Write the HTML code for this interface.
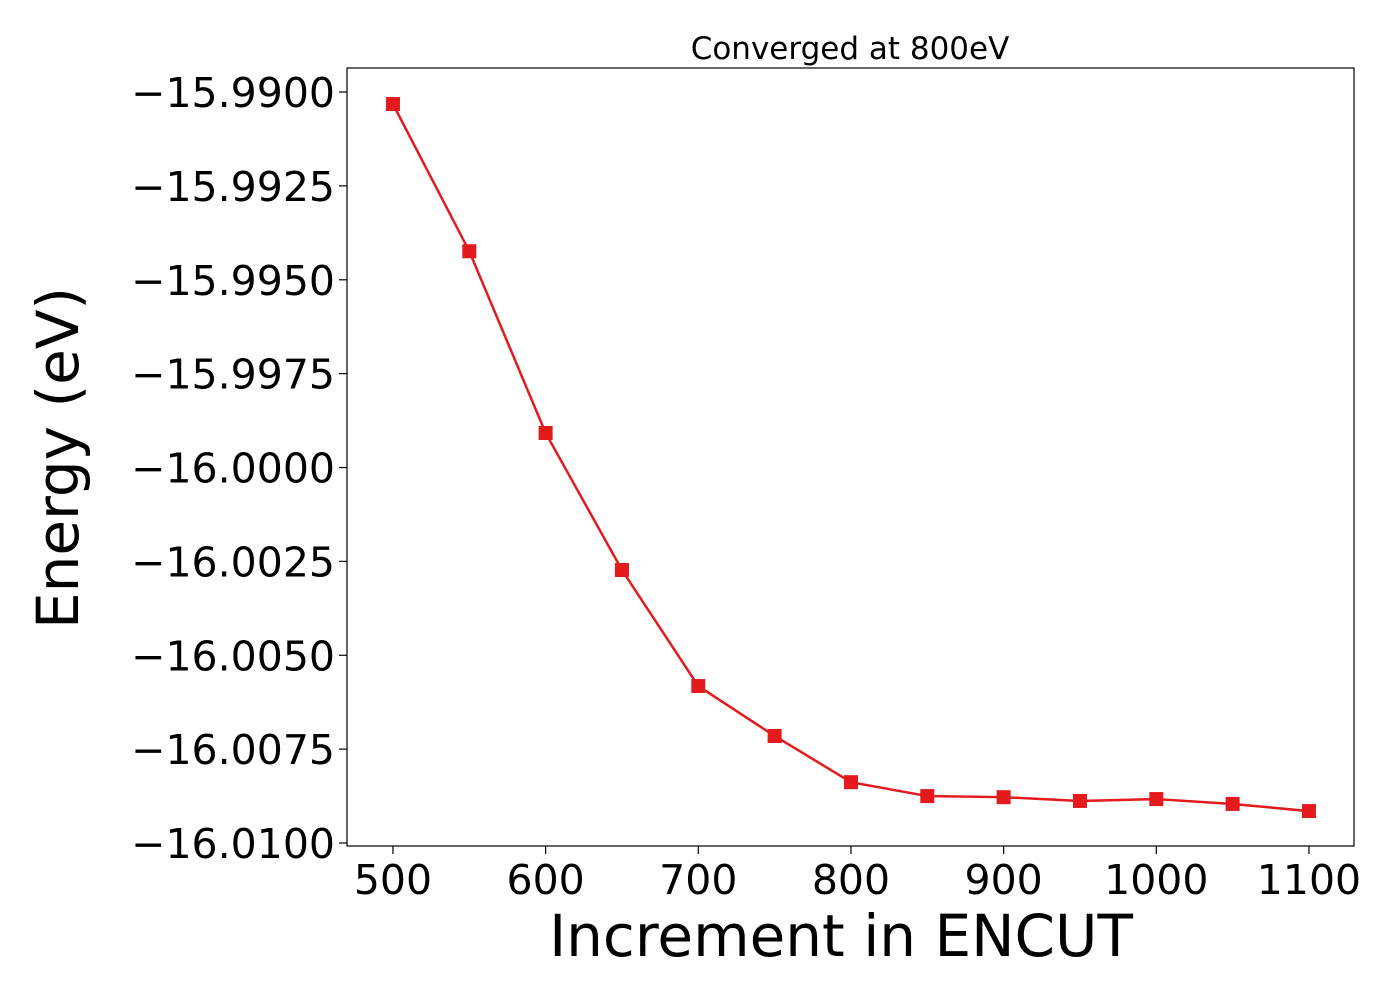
<!DOCTYPE html>
<html><head><meta charset="utf-8"><style>
body{margin:0;background:#fff;}
svg{display:block;font-family:"DejaVu Sans","Liberation Sans",sans-serif;}
</style></head><body>
<svg id="chart" width="1400" height="1000">
<text x="850" y="59" font-size="31" text-anchor="middle">Converged at 800eV</text>
<text x="841" y="956" font-size="58" text-anchor="middle">Increment in ENCUT</text>
<text transform="translate(78,458) rotate(-90)" font-size="58" text-anchor="middle">Energy (eV)</text>
<g id="axes"></g>
<rect x="347" y="68" width="1007" height="778" fill="none" stroke="#000" stroke-width="1.2"/>
</svg>
<script>
const xs=[500,550,600,650,700,750,800,850,900,950,1000,1050,1100];
const energies=[-15.99032,-15.99424,-15.99908,-16.00273,-16.00582,-16.00715,-16.00838,-16.00875,-16.00878,-16.00888,-16.00883,-16.00896,-16.00915];
const xTicks=[500,600,700,800,900,1000,1100];
const yTicks=[-15.99,-15.9925,-15.995,-15.9975,-16.0,-16.0025,-16.005,-16.0075,-16.01];
const L=347,R=1354,T=68,B=846;
const xMin=469.9,xMax=1129.5,yMax=-15.98936,yMin=-16.01008;
const sx=v=>L+(v-xMin)/(xMax-xMin)*(R-L);
const sy=v=>B-(v-yMin)/(yMax-yMin)*(B-T);
const g=document.getElementById('axes');
const NS='http://www.w3.org/2000/svg';
function mk(t,a){const e=document.createElementNS(NS,t);for(const k in a)e.setAttribute(k,a[k]);g.appendChild(e);return e;}
xTicks.forEach(v=>{
 const l=mk('line',{x1:sx(v),x2:sx(v),y1:B,y2:B+8,stroke:'#000','stroke-width':1.2});
 
 
 const t=mk('text',{x:sx(v),y:B+48,'font-size':41,'text-anchor':'middle'});
 t.textContent=v;
 
 
});
yTicks.forEach(v=>{
 const l=mk('line',{x1:L-8,x2:L,y1:sy(v),y2:sy(v),stroke:'#000','stroke-width':1.2});
 
 
 const t=mk('text',{x:L-12,y:sy(v)+15,'font-size':41,'text-anchor':'end'});
 t.textContent='\u2212'+Math.abs(v).toFixed(4);
 
 
});
const p=mk('polyline',{points:xs.map((x,i)=>sx(x)+','+sy(energies[i])).join(' '),fill:'none',stroke:'#e41a1c','stroke-width':2.5});


xs.forEach((x,i)=>{
 const r=mk('rect',{x:sx(x)-7,y:sy(energies[i])-7,width:14,height:14,fill:'#e41a1c'});
 
 
});
</script>
</body></html>
